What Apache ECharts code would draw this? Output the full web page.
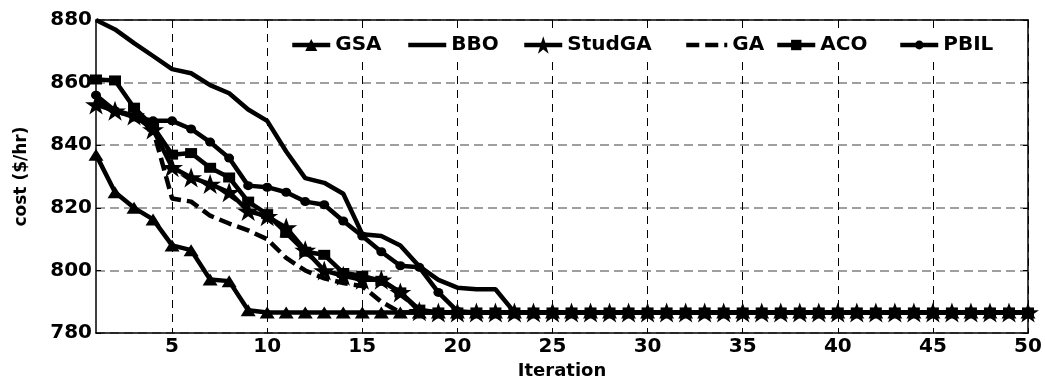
<!DOCTYPE html>
<html>
<head>
<meta charset="utf-8">
<script src="https://cdn.jsdelivr.net/npm/echarts@6/dist/echarts.min.js"></script>
<style>html,body{margin:0;padding:0;background:#fff}#c{width:1045px;height:385px}</style>
</head>
<body>
<div id="c"></div>
<script>
const iterations = [1,2,3,4,5,6,7,8,9,10,11,12,13,14,15,16,17,18,19,20,21,22,23,24,25,26,27,28,29,30,31,32,33,34,35,36,37,38,39,40,41,42,43,44,45,46,47,48,49,50];
const yTicks = [780, 800, 820, 840, 860, 880];
const legendNames = ['GSA', 'BBO', 'StudGA', 'GA', 'ACO', 'PBIL'];

const gsa = [837,825,820,816.3,808,806.5,797.1,796.6,787.3,786.6,
  786.6,786.6,786.6,786.6,786.6,786.6,786.6,786.6,786.6,786.6,
  786.6,786.6,786.6,786.6,786.6,786.6,786.6,786.6,786.6,786.6,
  786.6,786.6,786.6,786.6,786.6,786.6,786.6,786.6,786.6,786.6,
  786.6,786.6,786.6,786.6,786.6,786.6,786.6,786.6,786.6,786.6];
const bbo = [880,877,872.6,868.5,864.3,863,859.2,856.6,851.4,847.8,
  838,829.5,828,824.5,811.6,811,808,801.3,797,794.5,
  794,794,786.6,786.6,786.6,786.6,786.6,786.6,786.6,786.6,
  786.6,786.6,786.6,786.6,786.6,786.6,786.6,786.6,786.6,786.6,
  786.6,786.6,786.6,786.6,786.6,786.6,786.6,786.6,786.6,786.6];
const studga = [853,851,849.5,845,833,829.7,827.6,825,819,817.3,
  813.7,806.5,800,798.3,797,797,793,787,786.6,786.6,
  786.6,786.6,786.6,786.6,786.6,786.6,786.6,786.6,786.6,786.6,
  786.6,786.6,786.6,786.6,786.6,786.6,786.6,786.6,786.6,786.6,
  786.6,786.6,786.6,786.6,786.6,786.6,786.6,786.6,786.6,786.6];
const ga = [855,851,849,845,823,822,817.5,815,812.8,810,
  804,800,797.5,796,795,790,786.6,786.6,786.6,786.6,
  786.6,786.6,786.6,786.6,786.6,786.6,786.6,786.6,786.6,786.6,
  786.6,786.6,786.6,786.6,786.6,786.6,786.6,786.6,786.6,786.6,
  786.6,786.6,786.6,786.6,786.6,786.6,786.6,786.6,786.6,786.6];
const aco = [861,860.7,852,846,837,837.5,832.8,829.7,822,818,
  812,806,805,799.2,798.3,796.7,793,787.5,786.6,786.6,
  786.6,786.6,786.6,786.6,786.6,786.6,786.6,786.6,786.6,786.6,
  786.6,786.6,786.6,786.6,786.6,786.6,786.6,786.6,786.6,786.6,
  786.6,786.6,786.6,786.6,786.6,786.6,786.6,786.6,786.6,786.6];
const pbil = [856,851,849,847.8,847.8,845.2,841,835.9,827.1,826.6,
  825,822,821,815.8,811,806,801.5,801,793,787,
  786.6,786.6,786.6,786.6,786.6,786.6,786.6,786.6,786.6,786.6,
  786.6,786.6,786.6,786.6,786.6,786.6,786.6,786.6,786.6,786.6,
  786.6,786.6,786.6,786.6,786.6,786.6,786.6,786.6,786.6,786.6];

const FONT = 'DejaVu Sans';
const STAR = 'path://M50,0 L61.8,35.1 L98.1,35.1 L68.2,56.7 L79.4,90.9 L50,69.1 L20.6,90.9 L31.8,56.7 L1.9,35.1 L38.2,35.1 Z';
const every5 = function (index) { return (index + 1) % 5 === 0; };

const seriesDefs = [
  { name: 'GSA', data: gsa, symbol: 'triangle', symbolSize: [15, 12], type: 'solid' },
  { name: 'BBO', data: bbo, symbol: 'none', symbolSize: 0, type: 'solid' },
  { name: 'StudGA', data: studga, symbol: STAR, symbolSize: [22, 20], type: 'solid' },
  { name: 'GA', data: ga, symbol: 'none', symbolSize: 0, type: [13, 6] },
  { name: 'ACO', data: aco, symbol: 'rect', symbolSize: [12, 10], type: 'solid' },
  { name: 'PBIL', data: pbil, symbol: 'circle', symbolSize: [10, 9], type: 'solid' }
];

const legendLefts = [290, 406, 522, 684, 775, 898];
const legendIconH = [15, 14, 22, 14, 13, 11];
const legends = legendNames.map(function (n, i) {
  const hidden = (n === 'BBO' || n === 'GA');
  const h = legendIconH[i];
  return {
    data: [hidden ? { name: n, itemStyle: { opacity: 0 } } : n],
    left: legendLefts[i] - 2,
    top: 46 - Math.max(h, 22) / 2 - 6,
    orient: 'horizontal',
    padding: [6, 2, 6, 2],
    backgroundColor: '#fff',
    itemWidth: n === 'GA' ? 41 : 38,
    itemHeight: h,
    lineStyle: { width: 4.5 },
    textStyle: { fontFamily: FONT, fontWeight: 'bold', fontSize: 20, color: '#000' }
  };
});

const option = {
  animation: false,
  backgroundColor: '#fff',
  grid: { left: 96, right: 17, top: 20, bottom: 43 },
  legend: legends,
  xAxis: [{
    type: 'category',
    data: iterations,
    boundaryGap: false,
    name: 'Iteration',
    nameLocation: 'middle',
    nameGap: 26,
    nameTextStyle: { fontFamily: FONT, fontWeight: 'bold', fontSize: 18, color: '#000' },
    axisLine: { lineStyle: { color: '#000', width: 1.5 } },
    axisTick: { inside: true, length: 5, interval: every5, lineStyle: { color: '#000' } },
    axisLabel: { interval: every5, margin: 4, fontFamily: FONT, fontWeight: 'bold', fontSize: 20, color: '#000' },
    splitLine: { show: true, interval: every5, lineStyle: { color: '#000', width: 1, type: [8, 6] } }
  }, {
    type: 'category',
    data: iterations,
    boundaryGap: false,
    position: 'top',
    axisLine: { lineStyle: { color: '#000', width: 1.5 } },
    axisTick: { inside: true, length: 5, interval: every5, lineStyle: { color: '#000' } },
    axisLabel: { show: false },
    splitLine: { show: false }
  }],
  yAxis: [{
    type: 'value',
    min: yTicks[0],
    max: yTicks[yTicks.length - 1],
    interval: 20,
    name: 'cost ($/hr)',
    nameLocation: 'middle',
    nameGap: 66,
    nameRotate: 90,
    nameTextStyle: { fontFamily: FONT, fontWeight: 'bold', fontSize: 17, color: '#000' },
    axisLine: { show: true, lineStyle: { color: '#000', width: 1.5 } },
    axisTick: { show: true, inside: true, length: 5, lineStyle: { color: '#000' } },
    axisLabel: { margin: 4, fontFamily: FONT, fontWeight: 'bold', fontSize: 20, color: '#000' },
    splitLine: { show: true, lineStyle: { color: '#808080', width: 1.5, type: [9, 5] } }
  }, {
    type: 'value',
    min: yTicks[0],
    max: yTicks[yTicks.length - 1],
    interval: 20,
    position: 'right',
    axisLine: { show: true, lineStyle: { color: '#000', width: 1.5 } },
    axisTick: { show: true, inside: true, length: 5, lineStyle: { color: '#000' } },
    axisLabel: { show: false },
    splitLine: { show: false }
  }],
  series: seriesDefs.map(function (s) {
    return {
      name: s.name,
      type: 'line',
      data: s.data,
      symbol: s.symbol,
      symbolSize: s.symbolSize,
      showSymbol: s.symbol !== 'none',
      showAllSymbol: true,
      symbolKeepAspect: false,
      clip: false,
      lineStyle: { color: '#000', width: 4.5, type: s.type },
      itemStyle: { color: '#000', borderWidth: 0 },
      emphasis: { disabled: true }
    };
  })
};

const chart = echarts.init(document.getElementById('c'), null, { renderer: 'canvas' });
chart.setOption(option);
</script>
</body>
</html>
